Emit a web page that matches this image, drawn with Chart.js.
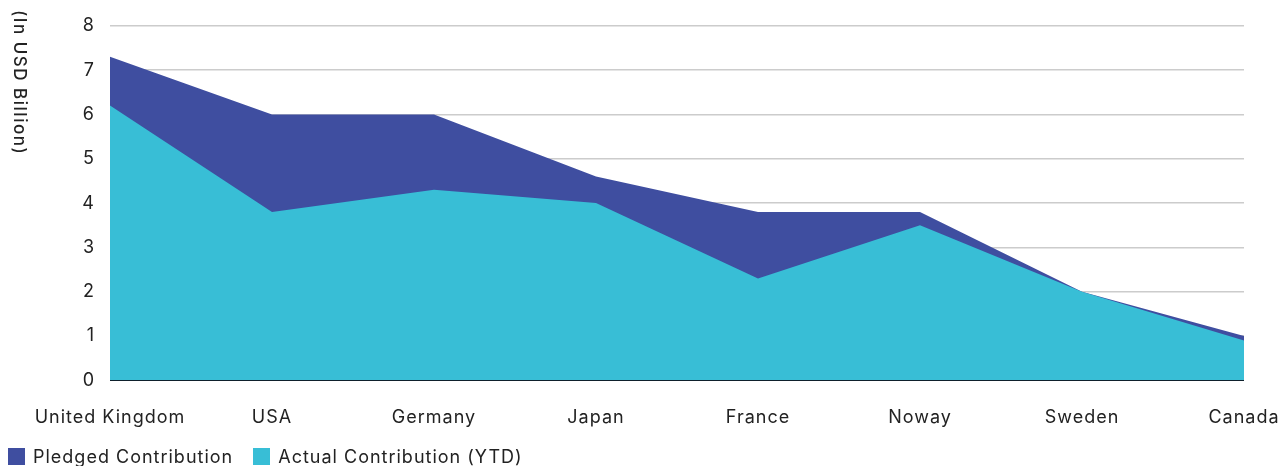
<!DOCTYPE html>
<html>
<head>
<meta charset="utf-8">
<script src="https://cdn.jsdelivr.net/npm/chart.js@4"></script>
<style>
  html, body { margin: 0; padding: 0; background: #fff; }
  #wrap { width: 1288px; height: 466px; position: relative; }
  #legend {
    position: absolute; left: 8px; top: 446px;
    display: flex; align-items: center;
    font-family: Inter, 'Noto Sans', sans-serif; font-size: 18px; letter-spacing: 1px; color: #222;
  }
  #legend .item { display: flex; align-items: center; margin-right: 20px; }
  #legend .box { width: 17px; height: 17px; margin-right: 8px; }
</style>
</head>
<body>
<div id="wrap">
  <canvas id="contribChart"></canvas>
  <div id="legend"></div>
</div>
<script>
const COUNTRIES = ['United Kingdom', 'USA', 'Germany', 'Japan', 'France', 'Noway', 'Sweden', 'Canada'];
const PLEDGED = [7.3, 6.0, 6.0, 4.6, 3.8, 3.8, 2.0, 1.0];
const ACTUAL = [6.2, 3.8, 4.3, 4.0, 2.3, 3.5, 2.0, 0.9];
const Y_TITLE = '(In USD Billion)';

const FONT = "Inter, 'Noto Sans', sans-serif";

// wider text like the original font (canvas state is reset on resize, so set it again)
const spacingPlugin = {
    id: 'spacing',
    beforeUpdate(chart) { chart.ctx.letterSpacing = '1px'; },
    beforeDraw(chart) { chart.ctx.letterSpacing = '1px'; }
};

// y title reads top to bottom, so draw it by hand
const yTitlePlugin = {
    id: 'yTitle',
    afterDraw(chart) {
        const ctx = chart.ctx;
        ctx.save();
        ctx.translate(19, 10);
        ctx.rotate(Math.PI / 2);
        ctx.font = '500 17px ' + FONT;
        ctx.letterSpacing = '1.5px';
        ctx.fillStyle = '#222';
        ctx.textAlign = 'left';
        ctx.textBaseline = 'middle';
        ctx.fillText(Y_TITLE, 0, 0);
        ctx.restore();
    }
};

const config = {
    type: 'line',
    data: {
        labels: COUNTRIES,
        datasets: [{
            label: 'Pledged Contribution',
            data: PLEDGED,
            backgroundColor: '#3F4EA0',
            borderColor: '#3F4EA0',
            borderWidth: 0,
            pointRadius: 0,
            fill: 'origin',
            order: 1
        }, {
            label: 'Actual Contribution (YTD)',
            data: ACTUAL,
            backgroundColor: '#38BED6',
            borderColor: '#38BED6',
            borderWidth: 0,
            pointRadius: 0,
            fill: 'origin',
            order: 0
        }]
    },
    options: {
        responsive: true,
        maintainAspectRatio: false,
        animation: false,
        layout: {
            padding: { left: 8, right: 0, top: 16, bottom: 12 }
        },
        plugins: {
            legend: { display: false },
            tooltip: { enabled: false }
        },
        scales: {
            x: {
                afterFit(scale) { scale.paddingRight = 44; },
                grid: { display: false, drawTicks: false },
                border: { display: false },
                ticks: {
                    padding: 26,
                    color: '#222',
                    maxRotation: 0,
                    font: { family: FONT, size: 18 }
                }
            },
            y: {
                min: 0,
                max: 8,
                afterFit(scale) { scale.width = 102; },
                grid: {
                    drawTicks: false,
                    color: (c) => c.tick && c.tick.value === 0 ? '#000' : '#cccccc',
                    lineWidth: (c) => c.tick && c.tick.value === 0 ? 2 : 1.5
                },
                border: { display: false },
                ticks: {
                    stepSize: 1,
                    padding: 15,
                    color: '#222',
                    font: { family: FONT, size: 18 }
                }
            }
        }
    },
    plugins: [spacingPlugin, yTitlePlugin]
};

var chart = new Chart('contribChart', config);

// legend in pledged -> actual order
const legendEl = document.getElementById('legend');
chart.data.datasets.forEach(function(ds) {
    const item = document.createElement('div');
    item.className = 'item';
    item.innerHTML = '<span class="box" style="background:' + ds.backgroundColor + '"></span><span>' + ds.label + '</span>';
    legendEl.appendChild(item);
});
</script>
</body>
</html>
